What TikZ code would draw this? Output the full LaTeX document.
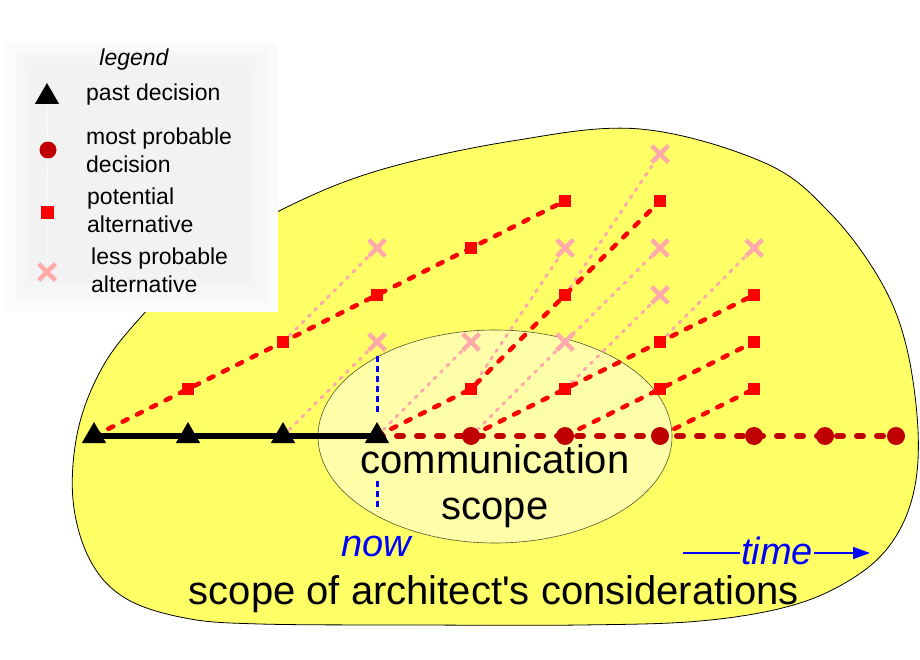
\documentclass[tikz,border=0pt]{standalone}
\usepackage{fontspec}
\setmainfont{Liberation Sans}
\usetikzlibrary{shapes.geometric,shapes.misc,arrows.meta}

\definecolor{blobyellow}{RGB}{255,255,102}
\definecolor{scopeyellow}{RGB}{255,255,170}
\definecolor{altred}{RGB}{255,0,0}
\definecolor{probred}{RGB}{192,0,0}
\definecolor{lesspink}{RGB}{255,170,170}
\definecolor{nowblue}{RGB}{0,0,255}

\newcommand{\legfont}{\fontsize{23}{28}\selectfont}
\newcommand{\bigfont}{\fontsize{40}{46}\selectfont}
\newcommand{\timefont}{\fontsize{38}{44}\selectfont\itshape}

\pgfdeclarelayer{blob}
\pgfdeclarelayer{lines}
\pgfsetlayers{blob,lines,main}

\tikzset{
  past/.style={regular polygon, regular polygon sides=3, fill=black,
    inner sep=0pt, minimum size=28pt},
  probable/.style={circle, fill=probred, inner sep=0pt, minimum size=18pt},
  potential/.style={rectangle, fill=altred, inner sep=0pt, minimum size=12pt},
  lessprob/.style={cross out, draw=lesspink, line width=4.5pt,
    inner sep=0pt, minimum size=12pt},
  pastline/.style={line width=6pt, black},
  probline/.style={line width=6pt, probred, line cap=round,
    dash pattern=on 6pt off 14pt},
  altline/.style={line width=4.5pt, altred, line cap=round,
    dash pattern=on 5.5pt off 10.5pt},
  lessline/.style={line width=3pt, lesspink, line cap=round,
    dash pattern=on 2.5pt off 6.5pt},
  nowline/.style={line width=3pt, nowblue, dash pattern=on 6pt off 4pt},
  legtext/.style={anchor=base west, font=\legfont, align=left, inner sep=0pt},
}

\begin{document}
\begin{tikzpicture}[x=1pt,y=-1pt]
\useasboundingbox (0,0) rectangle (920,660);

% ---------------------------------------------------------------
% the two scopes
% ---------------------------------------------------------------
\begin{pgfonlayer}{blob}
\draw[fill=blobyellow, line width=0.8pt] plot[smooth cycle, tension=0.6] coordinates {
  (285,208) (380,170) (512,141) (640,129) (765,163) (830,213)
  (880,280) (906,345) (918,430) (913,495) (890,545) (850,580)
  (790,606) (700,621) (580,625) (420,625) (260,624) (185,618)
  (125,598) (90,560) (73,500) (78,430) (102,368) (140,318) (200,258)};
\draw[fill=scopeyellow, draw=black!50!olive, line width=0.6pt]
  (495,436.5) ellipse [x radius=177, y radius=106.5];
\end{pgfonlayer}

% ---------------------------------------------------------------
% decisions
% ---------------------------------------------------------------
% past decisions (triangles)
\node[past] (p0) at (94,436) {};
\node[past] (p1) at (188,436) {};
\node[past] (p2) at (283,436) {};
\node[past] (p3) at (377,436) {};

% most probable decisions (circles)
\foreach \x/\n in {471/4, 565/5, 660/6, 754/7, 825/8, 896/9}{
  \node[probable] (m\n) at (\x,436) {};
}

% potential alternatives (squares), named s<column><row>
\node[potential] (s11) at (188,389) {};
\node[potential] (s22) at (283,342) {};
\node[potential] (s33) at (377,295) {};
\node[potential] (s44) at (471,248) {};
\node[potential] (s55) at (565,201) {};
\node[potential] (s41) at (471,389) {};
\node[potential] (s53) at (565,295) {};
\node[potential] (s65) at (660,201) {};
\node[potential] (s51) at (565,389) {};
\node[potential] (s62) at (660,342) {};
\node[potential] (s73) at (754,295) {};
\node[potential] (s61) at (660,389) {};
\node[potential] (s72) at (754,342) {};
\node[potential] (s71) at (754,389) {};

% less probable alternatives (crosses), named x<column><row>
\node[lessprob] (x32) at (377,342) {};
\node[lessprob] (x34) at (377,248) {};
\node[lessprob] (x42) at (471,342) {};
\node[lessprob] (x52) at (565,342) {};
\node[lessprob] (x54) at (565,248) {};
\node[lessprob] (x63) at (660,295) {};
\node[lessprob] (x64) at (660,248) {};
\node[lessprob] (x66) at (660,154) {};
\node[lessprob] (x74) at (754,248) {};

% ---------------------------------------------------------------
% paths between decisions
% ---------------------------------------------------------------
\begin{pgfonlayer}{lines}
\draw[lessline] (p2.center) -- (x32.center);
\draw[lessline] (s22.center) -- (x34.center);
\draw[lessline] (p3.center) -- (x42.center);
\draw[lessline] (s41.center) -- (x54.center);
\draw[lessline] (m4.center) -- (x52.center) -- (x64.center);
\draw[lessline] (s53.center) -- (x66.center);
\draw[lessline] (s51.center) -- (x63.center);
\draw[lessline] (s62.center) -- (x74.center);

\draw[altline] (p0.center) -- (s11.center) -- (s22.center) -- (s33.center)
  -- (s44.center) -- (s55.center);
\draw[altline] (p3.center) -- (s41.center) -- (s53.center) -- (s65.center);
\draw[altline] (m4.center) -- (s51.center) -- (s62.center) -- (s73.center);
\draw[altline] (m5.center) -- (s61.center) -- (s72.center);
\draw[altline] (m6.center) -- (s71.center);

\draw[probline] (p3.center) -- (m4.center) -- (m5.center) -- (m6.center)
  -- (m7.center) -- (m8.center) -- (m9.center);
\draw[pastline] (p0.center) -- (p3.center);

% now marker
\coordinate (nowa) at (377,356);
\coordinate (nowb) at (377,414);
\coordinate (nowc) at (377,481);
\coordinate (nowd) at (377,511);
\draw[nowline] (nowa) -- (nowb);
\draw[nowline] (nowc) -- (nowd);
\end{pgfonlayer}

% ---------------------------------------------------------------
% labels (base of a two-line node = base of its last line)
% ---------------------------------------------------------------
\node[anchor=base, font=\bigfont, align=center, inner sep=0pt] (comm)
  at (495,519) {communication\\scope};
\node[anchor=base west, font=\timefont, text=nowblue, inner sep=0pt] (now)
  at (341,556) {now};
\node[anchor=base, font=\timefont, text=nowblue, inner sep=1pt] (time)
  at (777,564) {time};
\coordinate (tfrom) at (683,553);
\coordinate (tto) at (870,553);
\draw[nowblue, line width=1.6pt] (tfrom) -- (tfrom -| time.west);
\draw[nowblue, line width=1.6pt, -{Triangle[length=17pt, width=12pt]}]
  (tto -| time.east) -- (tto);
\node[anchor=base, font=\bigfont, inner sep=0pt] (arch)
  at (494,604) {scope of architect\textquotesingle s considerations};

% ---------------------------------------------------------------
% legend
% ---------------------------------------------------------------
\fill[gray!3] (5,42) rectangle (278,312);
\fill[gray!6] (15,50) rectangle (268,301);
\fill[gray!8] (23,58) rectangle (258,291);
\fill[gray!10] (30,65) rectangle (250,282);

\node[anchor=base, font=\legfont\itshape, inner sep=0pt] (legtitle)
  at (134,66) {legend};
\node[past] (lpast) at (47,97) {};
\node[probable, minimum size=17pt] (lprob) at (48,150) {};
\node[potential, minimum size=13pt] (lpot) at (47,213) {};
\node[lessprob] (lless) at (47,272) {};
\draw[white!70!gray!10, line width=1pt] (lpast) -- (lprob) -- (lpot) -- (lless);

\node[legtext] (tpast) at (86,101) {past decision};
\node[legtext] (tprob) at (86,173) {most probable\\decision};
\node[legtext] (tpot) at (87,233) {potential\\alternative};
\node[legtext] (tless) at (91,292) {less probable\\alternative};

\end{tikzpicture}
\end{document}
